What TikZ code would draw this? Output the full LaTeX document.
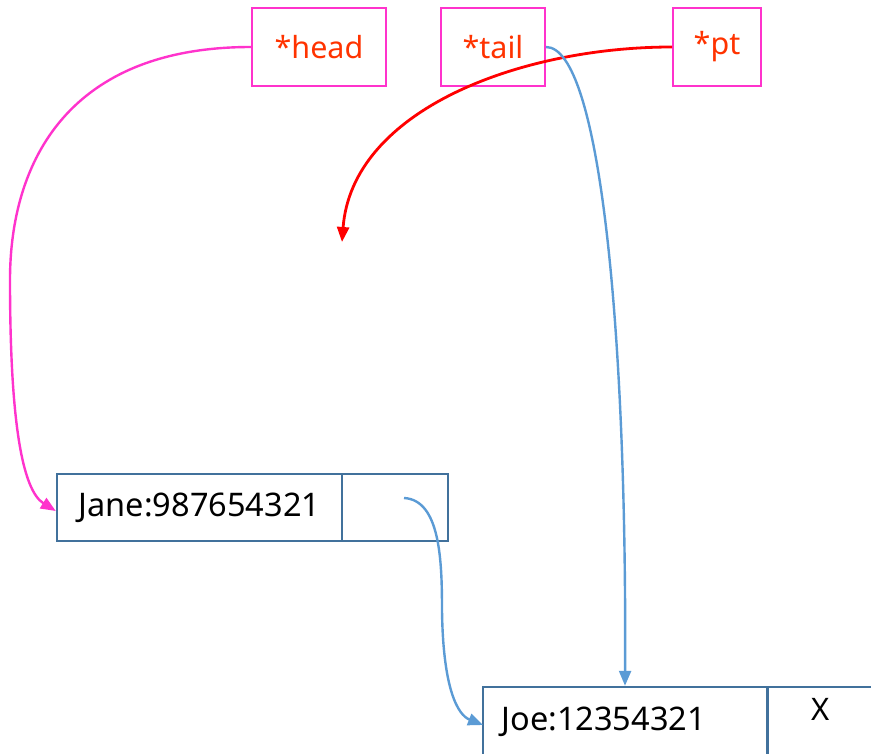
\documentclass[tikz,border=0pt]{standalone}
\usepackage{fontspec}
\setmainfont{Noto Sans}
\usetikzlibrary{arrows.meta}
\definecolor{pinkc}{HTML}{FF33CC}
\definecolor{ptrtext}{HTML}{FF3300}
\definecolor{boxblue}{HTML}{41719C}
\definecolor{arrblue}{HTML}{5B9BD5}
\definecolor{redc}{HTML}{FF0000}
\tikzset{
  ptrbox/.style={draw=pinkc, line width=2pt, minimum height=78pt, inner sep=0pt,
    text=ptrtext, font=\fontsize{30.5}{30}\selectfont},
  cell/.style={draw=boxblue, line width=2.4pt, inner sep=0pt, minimum height=67pt,
    font=\fontsize{32.5}{32}\selectfont},
  tip/.style={-{Triangle[length=15pt,width=12pt]}},
  pinkarr/.style={pinkc, line width=2.4pt, tip},
  redarr/.style={redc, line width=2.8pt, tip},
  bluearr/.style={arrblue, line width=2.4pt, tip}
}
\begin{document}
\begin{tikzpicture}[x=1pt,y=-1pt]
\useasboundingbox (0,0) rectangle (871,754);
\clip (0,0) rectangle (871,754);
% pointer boxes
\node[ptrbox, minimum width=134pt] (head) at (319,47) {*head};
\node[ptrbox, minimum width=104pt] (tail) at (493,47) {*tail};
\node[ptrbox, minimum width=88pt] (pt) at (717,47) {*pt};
% Jane node
\node[cell, minimum width=285pt] (jane1) at (199.5,507.5) {Jane:987654321};
\node[cell, minimum width=106pt] (jane2) at (395,507.5) {};
% Joe node (extends off canvas)
\node[cell, minimum width=284pt, minimum height=76pt] (joe1) at (625,725) {};
\node[font=\fontsize{32.5}{32}\selectfont, anchor=west] (joet) at (498,722) {Joe:12354321};
\node[cell, minimum width=140pt, minimum height=76pt, anchor=west] (joe2) at (767,725) {};
\node[font=\fontsize{31}{31}\selectfont] (xval) at (821,709) {X};
% coordinates
\coordinate (ptend) at (342,242);
\coordinate (nextstart) at (404,498);
\coordinate (joein) at (483,725);
% arrows
\draw[pinkarr] (head.west) .. controls (70,47) and (10,160) .. (10,280)
   .. controls (10,420) and (22,490) .. (jane1.west |- 0,511);
\draw[redarr] (pt.west) .. controls (520,47) and (352,110) .. (ptend);
\draw[bluearr] (tail.east) .. controls (600,47) and (627,330) .. (joe1.north);
\draw[bluearr] (nextstart) .. controls (440,500) and (442,560) .. (442,610)
   .. controls (443,690) and (458,715) .. (joein);
\end{tikzpicture}
\end{document}
